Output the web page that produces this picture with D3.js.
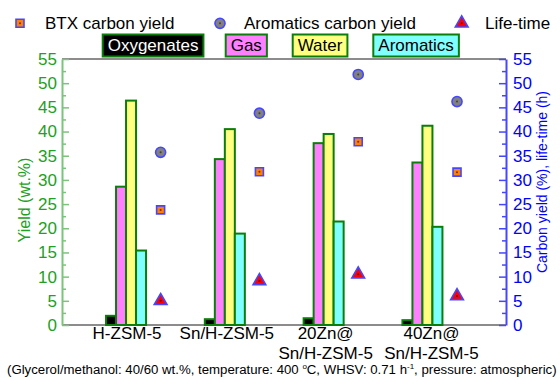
<!DOCTYPE html>
<html>
<head>
<meta charset="utf-8">
<script src="https://cdn.jsdelivr.net/npm/d3@7"></script>
<style>
  html, body { margin: 0; padding: 0; background: #fff; }
  svg { display: block; font-family: "Liberation Sans", Arial, sans-serif; }
</style>
</head>
<body>
<svg id="chart" width="560" height="380"></svg>
<script>
// Catalysts (line breaks split the axis labels)
const categories = ["H-ZSM-5", "Sn/H-ZSM-5", "20Zn@\nSn/H-ZSM-5", "40Zn@\nSn/H-ZSM-5"];

// Product yields, wt.% (left axis)
const oxygenates = [1.9, 1.2, 1.4, 1.0];
const gas        = [28.6, 34.3, 37.6, 33.6];
const water      = [46.4, 40.5, 39.5, 41.2];
const aromatics  = [15.4, 18.9, 21.4, 20.3];

// Carbon yields (%) and catalyst life-time (h) (right axis)
const btxCarbon       = [23.8, 31.7, 37.9, 31.6];
const aromaticsCarbon = [35.7, 43.8, 51.8, 46.2];
const lifeTime        = [5.0, 9.1, 10.5, 6.0];

// Axis ticks
const majorTicks = [0, 5, 10, 15, 20, 25, 30, 35, 40, 45, 50, 55];
const minorTicks = [2.5, 7.5, 12.5, 17.5, 22.5, 27.5, 32.5, 37.5, 42.5, 47.5, 52.5];

// ---- layout ----
const M = { left: 62, right: 506, top: 59, bottom: 325 };
const GREEN_TXT = "#22a022", GREEN_AX = "#7cc47c", BAR_STROKE = "#0b7d0b";
const BLUE = "#0000ff", BLUE_AX = "#4646ff", GREY = "#8c8c8c";
const FONT = 17;
const labelDx = [1, 2, 2, 9];

const svg = d3.select("#chart");

const x = d3.scaleBand().domain(categories).range([M.left, M.right])
  .paddingInner(0).paddingOuter(0.247).align(0.3);
const center = c => x(c) + x.bandwidth() / 2;
const yL = d3.scaleLinear().domain([0, 55]).range([M.bottom, M.top]);
const yR = d3.scaleLinear().domain([0, 55]).range([M.bottom, M.top]);

const seriesNames = ["Oxygenates", "Gas", "Water", "Aromatics"];
const seriesData = [oxygenates, gas, water, aromatics];
const seriesFill = ["#000000", "#ff80ff", "#ffff80", "#80ffff"];
const sub = d3.scaleBand().domain(seriesNames)
  .range([-x.bandwidth() * 0.2025, x.bandwidth() * 0.2025]);
const markerDx = x.bandwidth() * 0.35;

// frame lines (top border and baseline)
svg.append("line").attr("x1", M.left).attr("x2", M.right).attr("y1", M.top).attr("y2", M.top)
  .attr("stroke", GREY).attr("stroke-width", 2);
svg.append("line").attr("x1", M.left).attr("x2", M.right).attr("y1", M.bottom).attr("y2", M.bottom)
  .attr("stroke", GREY).attr("stroke-width", 2);

// left axis
function styleAxis(g, lineColor, textColor) {
  g.select(".domain").attr("stroke", lineColor).attr("stroke-width", 2);
  g.selectAll(".tick line").attr("stroke", lineColor).attr("stroke-width", 1.5);
  g.selectAll(".tick text").attr("fill", textColor).attr("font-size", FONT)
    .attr("font-family", "Liberation Sans, Arial, sans-serif");
}
const gL = svg.append("g").attr("transform", `translate(${M.left},0)`)
  .call(d3.axisLeft(yL).tickValues(majorTicks).tickSize(-7).tickSizeOuter(0).tickPadding(5));
styleAxis(gL, GREEN_AX, GREEN_TXT);
const gLm = svg.append("g").attr("transform", `translate(${M.left},0)`)
  .call(d3.axisLeft(yL).tickValues(minorTicks).tickSize(-4).tickSizeOuter(0).tickFormat(""));
styleAxis(gLm, GREEN_AX, GREEN_TXT);
gLm.select(".domain").remove();

// right axis
const gR = svg.append("g").attr("transform", `translate(${M.right},0)`)
  .call(d3.axisRight(yR).tickValues(majorTicks).tickSize(-7).tickSizeOuter(0).tickPadding(7));
styleAxis(gR, BLUE_AX, BLUE);
const gRm = svg.append("g").attr("transform", `translate(${M.right},0)`)
  .call(d3.axisRight(yR).tickValues(minorTicks).tickSize(-4).tickSizeOuter(0).tickFormat(""));
styleAxis(gRm, BLUE_AX, BLUE);
gRm.select(".domain").remove();

// axis titles
svg.append("text").attr("transform", `translate(30,${(M.top + M.bottom) / 2 + 8}) rotate(-90)`)
  .attr("text-anchor", "middle").attr("fill", GREEN_TXT).attr("font-size", 16)
  .text("Yield (wt.%)");
svg.append("text").attr("transform", `translate(547,${(M.top + M.bottom) / 2 - 10}) rotate(-90)`)
  .attr("text-anchor", "middle").attr("fill", BLUE).attr("font-size", 14)
  .text("Carbon yield (%), life-time (h)");

// category labels
categories.forEach((c, i) => {
  const t = svg.append("text").attr("text-anchor", "middle").attr("font-size", FONT).attr("fill", "#000")
    .attr("x", center(c) + labelDx[i]).attr("y", 338.5);
  c.split("\n").forEach((line, k) => {
    t.append("tspan").attr("x", center(c) + labelDx[i]).attr("dy", k === 0 ? 0 : 20).text(line);
  });
});

// bars
seriesNames.forEach((s, si) => {
  svg.append("g").selectAll("rect").data(categories).join("rect")
    .attr("x", c => center(c) + sub(s))
    .attr("width", sub.bandwidth())
    .attr("y", (c, i) => yL(seriesData[si][i]))
    .attr("height", (c, i) => yL(0) - yL(seriesData[si][i]))
    .attr("fill", seriesFill[si])
    .attr("stroke", BAR_STROKE).attr("stroke-width", 2);
});

// markers
const sym = {
  square:   { path: d3.symbol(d3.symbolSquare, 64)(), fill: "#ff8000", dot: "#7a2a00" },
  circle:   { path: d3.symbol(d3.symbolCircle, 80)(), fill: "#808080", dot: "#404040" },
  triangle: { path: d3.symbol(d3.symbolTriangle, 70)(), fill: "#ff0000", dot: "#700000" }
};
function marker(g, kind, cx, cy) {
  const s = sym[kind];
  g.append("path").attr("d", s.path).attr("transform", `translate(${cx},${cy})`)
    .attr("fill", s.fill).attr("stroke", BLUE_AX).attr("stroke-width", 1.6);
  g.append("circle").attr("cx", cx).attr("cy", cy).attr("r", 1).attr("fill", s.dot);
}
const gm = svg.append("g");
categories.forEach((c, i) => {
  const mx = center(c) + markerDx;
  marker(gm, "circle", mx, yR(aromaticsCarbon[i]));
  marker(gm, "square", mx, yR(btxCarbon[i]));
  marker(gm, "triangle", mx, yR(lifeTime[i]));
});

// legend, top row: markers
const legendTop = [
  { kind: "square", label: "BTX carbon yield", mx: 20, tx: 45 },
  { kind: "circle", label: "Aromatics carbon yield", mx: 220, tx: 244 },
  { kind: "triangle", label: "Life-time", mx: 461.7, tx: 485 }
];
legendTop.forEach(d => {
  marker(svg, d.kind, d.mx, 23.3);
  svg.append("text").attr("x", d.tx).attr("y", 29.3).attr("font-size", FONT).attr("fill", "#000").text(d.label);
});

// legend, second row: boxed series names
const boxX = [102.7, 225.7, 292.7, 373.3];
seriesNames.forEach((s, si) => {
  const g = svg.append("g");
  const rect = g.append("rect").attr("x", boxX[si]).attr("y", 34.5).attr("height", 22)
    .attr("fill", seriesFill[si]).attr("stroke", BAR_STROKE).attr("stroke-width", 2);
  const t = g.append("text").attr("x", boxX[si] + 5).attr("y", 51).attr("font-size", FONT)
    .attr("fill", si === 0 ? "#fff" : "#000").text(s);
  rect.attr("width", t.node().getComputedTextLength() + 10);
});

// footnote with reaction conditions
const note = svg.append("text").attr("x", 7).attr("y", 374).attr("font-size", 12.5).attr("fill", "#000");
note.append("tspan").text("(Glycerol/methanol: 40/60 wt.%, temperature: 400 ");
note.append("tspan").attr("font-size", 8).attr("dy", -5).text("o");
note.append("tspan").attr("dy", 5).text("C, WHSV: 0.71 h");
note.append("tspan").attr("font-size", 8).attr("dy", -5).text("-1");
note.append("tspan").attr("dy", 5).text(", pressure: atmospheric)");
const nw = note.node().getComputedTextLength();
note.attr("font-size", 12.5 * 551 / nw);
</script>
</body>
</html>
